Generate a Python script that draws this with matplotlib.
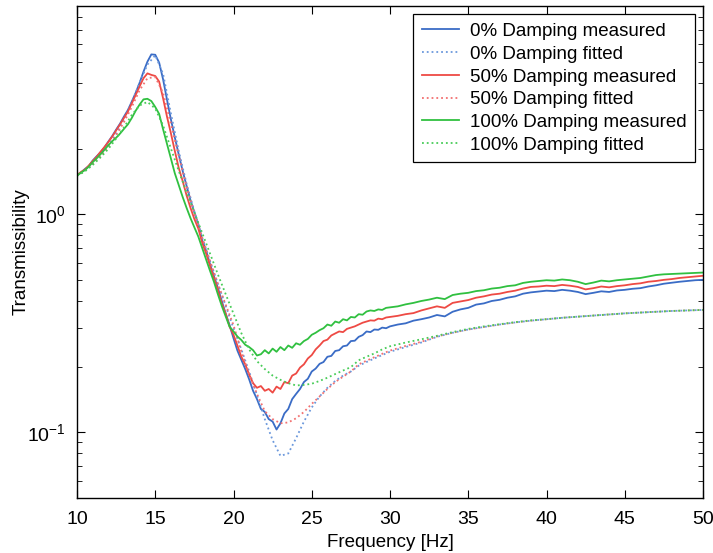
import numpy as np
import matplotlib
matplotlib.use("Agg")
import matplotlib.pyplot as plt

plt.rcParams['font.family'] = ['Liberation Sans', 'DejaVu Sans']

# =========================================================
# DATOS
# =========================================================

# rejilla de frecuencias medidas: 0.25 Hz hasta 30 Hz, luego 0.5 Hz
freq_meas = np.concatenate([np.arange(10.0, 30.01, 0.25), np.arange(30.5, 50.01, 0.5)])
# rejilla de las curvas ajustadas: 0.5 Hz hasta 30 Hz, luego 1 Hz
freq_fit = np.concatenate([np.arange(10.0, 30.01, 0.5), np.arange(31.0, 50.01, 1.0)])

meas_0 = [
    1.51, 1.55, 1.61, 1.66, 1.76, 1.84, 1.92, 2.02, 2.15, 2.28,
    2.44, 2.60, 2.80, 3.00, 3.28, 3.60, 4.00, 4.50, 5.00, 5.40,
    5.38, 4.95, 4.15, 3.35, 2.72, 2.25, 1.88, 1.58, 1.35, 1.16,
    1.02, 0.90, 0.76, 0.68, 0.59, 0.52, 0.46, 0.40, 0.35, 0.31,
    0.27, 0.237, 0.215, 0.195, 0.175, 0.155, 0.142, 0.128, 0.124, 0.115,
    0.112, 0.103, 0.110, 0.122, 0.128, 0.142, 0.150, 0.158, 0.170, 0.176,
    0.190, 0.196, 0.206, 0.210, 0.222, 0.224, 0.236, 0.238, 0.248, 0.250,
    0.262, 0.263, 0.274, 0.279, 0.290, 0.288, 0.296, 0.295, 0.302, 0.300,
    0.306,
    0.312, 0.316, 0.325, 0.330, 0.336, 0.345, 0.340, 0.357, 0.366, 0.372,
    0.385, 0.390, 0.400, 0.405, 0.414, 0.420, 0.432, 0.438, 0.442, 0.446,
    0.444, 0.450, 0.446, 0.440, 0.430, 0.436, 0.443, 0.440, 0.447, 0.450,
    0.455, 0.458, 0.466, 0.472, 0.480, 0.485, 0.490, 0.494, 0.498, 0.500,
]

meas_50 = [
    1.51, 1.56, 1.60, 1.67, 1.75, 1.83, 1.93, 2.03, 2.14, 2.27,
    2.42, 2.58, 2.76, 2.95, 3.22, 3.52, 3.85, 4.20, 4.42, 4.35,
    4.30, 4.05, 3.40, 2.80, 2.35, 1.95, 1.63, 1.42, 1.22, 1.07,
    0.95, 0.86, 0.74, 0.66, 0.58, 0.51, 0.45, 0.39, 0.35, 0.305,
    0.28, 0.25, 0.222, 0.205, 0.184, 0.168, 0.160, 0.163, 0.155, 0.158,
    0.152, 0.162, 0.158, 0.170, 0.168, 0.182, 0.186, 0.198, 0.205, 0.218,
    0.226, 0.240, 0.250, 0.262, 0.266, 0.278, 0.284, 0.290, 0.288, 0.298,
    0.302, 0.306, 0.312, 0.318, 0.322, 0.326, 0.325, 0.332, 0.330, 0.336,
    0.338,
    0.342, 0.348, 0.352, 0.362, 0.370, 0.378, 0.372, 0.392, 0.398, 0.404,
    0.414, 0.420, 0.428, 0.432, 0.440, 0.446, 0.456, 0.464, 0.466, 0.470,
    0.468, 0.474, 0.470, 0.464, 0.452, 0.458, 0.466, 0.462, 0.468, 0.472,
    0.478, 0.482, 0.490, 0.494, 0.500, 0.504, 0.510, 0.514, 0.518, 0.522,
]

meas_100 = [
    1.50, 1.55, 1.59, 1.65, 1.73, 1.80, 1.88, 1.97, 2.07, 2.16,
    2.24, 2.34, 2.46, 2.58, 2.76, 2.98, 3.18, 3.36, 3.38, 3.30,
    3.10, 2.88, 2.45, 2.10, 1.80, 1.54, 1.36, 1.20, 1.07, 0.96,
    0.87, 0.79, 0.70, 0.62, 0.55, 0.49, 0.43, 0.38, 0.34, 0.305,
    0.29, 0.275, 0.265, 0.252, 0.246, 0.238, 0.225, 0.228, 0.238, 0.230,
    0.242, 0.234, 0.246, 0.238, 0.250, 0.244, 0.256, 0.252, 0.262, 0.268,
    0.280, 0.286, 0.294, 0.300, 0.312, 0.308, 0.322, 0.318, 0.330, 0.326,
    0.338, 0.336, 0.348, 0.346, 0.358, 0.362, 0.360, 0.366, 0.364, 0.372,
    0.374,
    0.378, 0.386, 0.392, 0.400, 0.406, 0.414, 0.408, 0.426, 0.432, 0.436,
    0.444, 0.448, 0.456, 0.460, 0.468, 0.472, 0.484, 0.490, 0.494, 0.498,
    0.496, 0.502, 0.498, 0.490, 0.478, 0.486, 0.496, 0.492, 0.498, 0.502,
    0.506, 0.510, 0.518, 0.526, 0.530, 0.532, 0.534, 0.536, 0.538, 0.540,
]

fit_0 = [
    1.50, 1.58, 1.70, 1.86, 2.06, 2.34, 2.72, 3.25, 4.00, 4.85,
    5.35, 4.40, 2.90, 1.95, 1.38, 1.03, 0.78, 0.61, 0.48, 0.38,
    0.30, 0.24, 0.19, 0.148, 0.115, 0.092, 0.078, 0.080, 0.094, 0.112,
    0.130, 0.146, 0.160, 0.172, 0.182, 0.190, 0.202, 0.210, 0.218, 0.226,
    0.234,
    0.246, 0.258, 0.274, 0.286, 0.296, 0.304, 0.312, 0.319, 0.325, 0.330,
    0.335, 0.339, 0.343, 0.347, 0.351, 0.354, 0.357, 0.360, 0.362, 0.364,
]

fit_50 = [
    1.50, 1.58, 1.70, 1.85, 2.04, 2.30, 2.64, 3.10, 3.70, 4.20,
    4.25, 3.60, 2.60, 1.85, 1.34, 1.01, 0.78, 0.61, 0.48, 0.385,
    0.31, 0.235, 0.185, 0.150, 0.125, 0.115, 0.110, 0.111, 0.116, 0.124,
    0.135, 0.146, 0.158, 0.170, 0.180, 0.190, 0.205, 0.213, 0.221, 0.229,
    0.237,
    0.249, 0.260, 0.275, 0.286, 0.296, 0.304, 0.312, 0.319, 0.325, 0.330,
    0.335, 0.339, 0.343, 0.347, 0.351, 0.354, 0.357, 0.360, 0.362, 0.364,
]

fit_100 = [
    1.50, 1.57, 1.68, 1.82, 1.99, 2.22, 2.50, 2.85, 3.15, 3.27,
    3.05, 2.55, 2.00, 1.58, 1.26, 1.02, 0.82, 0.66, 0.53, 0.43,
    0.35, 0.285, 0.240, 0.212, 0.195, 0.182, 0.174, 0.168, 0.164, 0.165,
    0.167, 0.172, 0.178, 0.185, 0.192, 0.199, 0.214, 0.222, 0.230, 0.240,
    0.248,
    0.258, 0.267, 0.277, 0.288, 0.298, 0.306, 0.313, 0.320, 0.326, 0.330,
    0.335, 0.339, 0.343, 0.347, 0.351, 0.354, 0.357, 0.360, 0.362, 0.364,
]

labels = [
    "0% Damping measured", "0% Damping fitted",
    "50% Damping measured", "50% Damping fitted",
    "100% Damping measured", "100% Damping fitted",
]

# =========================================================
# FIGURA
# =========================================================

fig = plt.figure(figsize=(7.13, 5.53), dpi=100)
ax = fig.add_axes([77 / 713, 55 / 553, 626 / 713, 492 / 553])

series = [
    (freq_meas, meas_0, "#3a6cc6", "-", 1.3),
    (freq_fit, fit_0, "#6b98dc", ":", 1.3),
    (freq_meas, meas_50, "#ee4a44", "-", 1.3),
    (freq_fit, fit_50, "#f27070", ":", 1.3),
    (freq_meas, meas_100, "#30c040", "-", 1.3),
    (freq_fit, fit_100, "#48cc58", ":", 1.3),
]

for (x, y, color, ls, lw), label in zip(series, labels):
    ax.plot(x, y, color=color, linestyle=ls, linewidth=lw, label=label)

ax.set_yscale("log")
ax.set_xlim(10, 50)
ax.set_ylim(0.05, 9)
ax.set_xticks(np.arange(10, 51, 5))

ax.tick_params(which="both", direction="in", top=True, right=True,
               labelsize=14)
ax.tick_params(which="major", length=6)
ax.tick_params(which="minor", length=3.5)
ax.tick_params(axis="x", pad=9)
ax.tick_params(axis="y", pad=8)

for spine in ax.spines.values():
    spine.set_linewidth(1.0)

ax.set_xlabel("Frequency [Hz]", fontsize=13.5, labelpad=5)
ax.set_ylabel("Transmissibility", fontsize=13.5, labelpad=-2)

leg = ax.legend(loc="upper right", fontsize=13.5, fancybox=False,
                edgecolor="black", framealpha=1, handlelength=2.0,
                labelspacing=0.3, borderaxespad=0.45, handletextpad=0.55,
                borderpad=0.45)
leg.get_frame().set_linewidth(0.9)

fig.savefig("out.png", dpi=100)
